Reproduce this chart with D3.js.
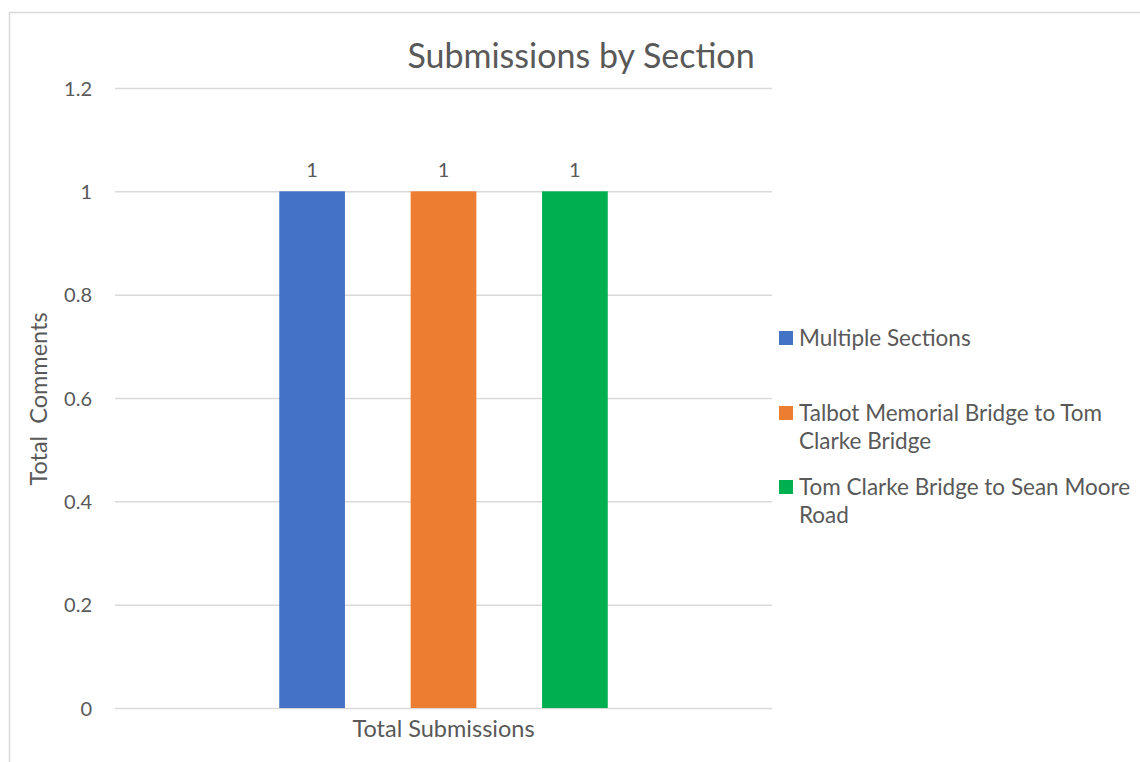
<!DOCTYPE html>
<html>
<head>
<meta charset="utf-8">
<script src="https://cdn.jsdelivr.net/npm/d3@7"></script>
<style>
  body { margin: 0; background: #fff; }
  text { font-family: Lato, "Open Sans", sans-serif; fill: #595959; }
</style>
</head>
<body>
<div id="chart"></div>
<script>
// data
var groups = ["Total Submissions"];
var seriesNames = ["Multiple Sections", "Talbot Memorial Bridge to Tom Clarke Bridge", "Tom Clarke Bridge to Sean Moore Road"];
var seriesValues = [1, 1, 1];
var seriesColors = ["#4472c4", "#ed7d31", "#00b050"];
var legendLines = [["Multiple Sections"], ["Talbot Memorial Bridge to Tom", "Clarke Bridge"], ["Tom Clarke Bridge to Sean Moore", "Road"]];
var yTicks = [0, 0.2, 0.4, 0.6, 0.8, 1, 1.2];

var width = 1140;
var height = 762;

var plotLeft = 115;
var plotRight = 772;
var plotTop = 88;
var plotBottom = 708;

var svg = d3.select("#chart")
  .append("svg")
  .attr("width", width)
  .attr("height", height);

// chart border (runs off the bottom and right)
svg.append("rect")
  .attr("x", 9.5)
  .attr("y", 12.5)
  .attr("width", width + 20)
  .attr("height", height + 20)
  .attr("fill", "none")
  .attr("stroke", "#d9d9d9")
  .attr("stroke-width", 1.5);

// scales
var yScale = d3.scaleLinear().domain([0, 1.2]).range([plotBottom, plotTop]);

var x0 = d3.scaleBand().domain(groups).range([plotLeft, plotRight]);

var x1 = d3.scaleBand()
  .domain(seriesNames)
  .range([0, x0.bandwidth()])
  .paddingInner(0.5)
  .paddingOuter(1.25);

// gridlines
var yAxis = d3.axisLeft(yScale)
  .tickValues(yTicks)
  .tickSize(-(plotRight - plotLeft))
  .tickPadding(23)
  .tickFormat(function(d) { return d3.format("~g")(d); });

var yG = svg.append("g")
  .attr("class", "yAxis")
  .attr("transform", "translate(" + plotLeft + ",0)")
  .call(yAxis);

yG.select(".domain").remove();
yG.selectAll("line").attr("stroke", "#d9d9d9").attr("stroke-width", 1.5);
yG.selectAll("text")
  .attr("font-size", 20)
  .attr("dy", "0.35em")
  .style("font-family", "Lato, 'Open Sans', sans-serif")
  .attr("fill", "#595959");

// bars
var barG = svg.append("g")
  .attr("transform", "translate(" + x0(groups[0]) + ",0)");

barG.selectAll("rect")
  .data(seriesNames)
  .enter()
  .append("rect")
  .attr("x", function(d) { return x1(d); })
  .attr("y", function(d, i) { return yScale(seriesValues[i]); })
  .attr("width", x1.bandwidth())
  .attr("height", function(d, i) { return yScale(0) - yScale(seriesValues[i]); })
  .attr("fill", function(d, i) { return seriesColors[i]; });

// value labels
barG.selectAll(".valLabel")
  .data(seriesNames)
  .enter()
  .append("text")
  .attr("class", "valLabel")
  .attr("x", function(d) { return x1(d) + x1.bandwidth() / 2; })
  .attr("y", function(d, i) { return yScale(seriesValues[i]) - 14; })
  .attr("text-anchor", "middle")
  .attr("font-size", 20)
  .text(function(d, i) { return seriesValues[i]; });

// x category label
svg.append("text")
  .attr("x", x0(groups[0]) + x0.bandwidth() / 2)
  .attr("y", 737)
  .attr("text-anchor", "middle")
  .attr("font-size", 23.5)
  .text(groups[0]);

// title
svg.append("text")
  .attr("x", 581)
  .attr("y", 68)
  .attr("text-anchor", "middle")
  .attr("font-size", 34)
  .text("Submissions by Section");

// y title
svg.append("text")
  .attr("transform", "translate(47,399)rotate(-90)")
  .attr("text-anchor", "middle")
  .attr("font-size", 23.5)
  .style("white-space", "pre")
  .text("Total  Comments");

// legend
var legendY = [338, 413, 487];
var legend = svg.append("g");
legendLines.forEach(function(lines, i) {
  legend.append("rect")
    .attr("x", 779)
    .attr("y", legendY[i] - 7)
    .attr("width", 14)
    .attr("height", 14)
    .attr("fill", seriesColors[i]);
  var t = legend.append("text")
    .attr("x", 799)
    .attr("y", legendY[i])
    .attr("font-size", 22.5);
  lines.forEach(function(line, j) {
    t.append("tspan")
      .attr("x", 799)
      .attr("dy", j === 0 ? "0.35em" : 28)
      .text(line);
  });
});
</script>
</body>
</html>
